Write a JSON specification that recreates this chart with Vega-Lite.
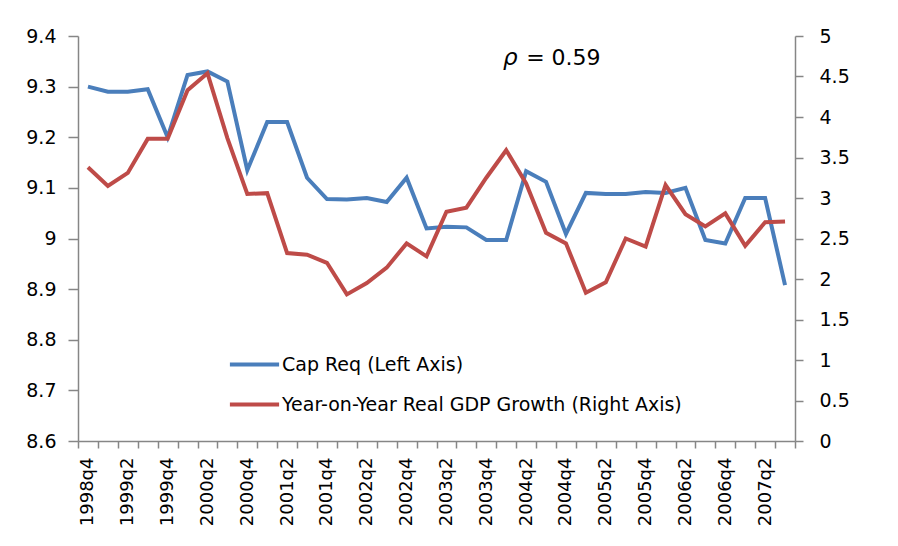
{
  "$schema": "https://vega.github.io/schema/vega-lite/v6.json",
  "width": 717,
  "height": 405,
  "autosize": "none",
  "padding": {"left": 78, "top": 36, "right": 103, "bottom": 105},
  "background": "white",
  "config": {
    "view": {"stroke": null},
    "font": "DejaVu Sans",
    "axis": {"grid": false, "domainColor": "#868686", "tickColor": "#868686", "labelColor": "#000000", "domainWidth": 1.5, "tickWidth": 1.5, "title": null}
  },
  "data": {
    "values": [
      {"q": "1998q4", "cap": 9.300, "gdp": 3.38},
      {"q": "1999q1", "cap": 9.290, "gdp": 3.15},
      {"q": "1999q2", "cap": 9.290, "gdp": 3.31},
      {"q": "1999q3", "cap": 9.295, "gdp": 3.73},
      {"q": "1999q4", "cap": 9.200, "gdp": 3.73},
      {"q": "2000q1", "cap": 9.323, "gdp": 4.33},
      {"q": "2000q2", "cap": 9.330, "gdp": 4.54},
      {"q": "2000q3", "cap": 9.310, "gdp": 3.74},
      {"q": "2000q4", "cap": 9.135, "gdp": 3.05},
      {"q": "2001q1", "cap": 9.230, "gdp": 3.06},
      {"q": "2001q2", "cap": 9.230, "gdp": 2.32},
      {"q": "2001q3", "cap": 9.120, "gdp": 2.30},
      {"q": "2001q4", "cap": 9.078, "gdp": 2.20},
      {"q": "2002q1", "cap": 9.077, "gdp": 1.81},
      {"q": "2002q2", "cap": 9.080, "gdp": 1.95},
      {"q": "2002q3", "cap": 9.072, "gdp": 2.14},
      {"q": "2002q4", "cap": 9.120, "gdp": 2.44},
      {"q": "2003q1", "cap": 9.020, "gdp": 2.28},
      {"q": "2003q2", "cap": 9.023, "gdp": 2.83},
      {"q": "2003q3", "cap": 9.022, "gdp": 2.88},
      {"q": "2003q4", "cap": 8.997, "gdp": 3.25},
      {"q": "2004q1", "cap": 8.997, "gdp": 3.59},
      {"q": "2004q2", "cap": 9.133, "gdp": 3.18},
      {"q": "2004q3", "cap": 9.112, "gdp": 2.57},
      {"q": "2004q4", "cap": 9.009, "gdp": 2.44},
      {"q": "2005q1", "cap": 9.090, "gdp": 1.83},
      {"q": "2005q2", "cap": 9.088, "gdp": 1.96},
      {"q": "2005q3", "cap": 9.088, "gdp": 2.50},
      {"q": "2005q4", "cap": 9.092, "gdp": 2.40},
      {"q": "2006q1", "cap": 9.090, "gdp": 3.16},
      {"q": "2006q2", "cap": 9.100, "gdp": 2.80},
      {"q": "2006q3", "cap": 8.997, "gdp": 2.65},
      {"q": "2006q4", "cap": 8.990, "gdp": 2.81},
      {"q": "2007q1", "cap": 9.080, "gdp": 2.41},
      {"q": "2007q2", "cap": 9.080, "gdp": 2.70},
      {"q": "2007q3", "cap": 8.908, "gdp": 2.71}
    ]
  },
  "encoding": {
    "x": {
      "field": "q",
      "type": "ordinal",
      "sort": null,
      "bandPosition": 0.5,
      "scale": {"type": "band", "paddingInner": 0, "paddingOuter": 0},
      "axis": {
        "tickBand": "extent",
        "tickSize": 7,
        "labelAngle": 270,
        "labelFontSize": 18,
        "labelPadding": 9,
        "labelExpr": "test(/q[24]$/, datum.value) ? datum.label : ''"
      }
    }
  },
  "layer": [
    {
      "layer": [
        {
          "mark": {"type": "line", "strokeWidth": 4},
          "encoding": {
            "y": {
              "field": "cap",
              "type": "quantitative",
              "scale": {"domain": [8.6, 9.4], "nice": false, "zero": false},
              "axis": {"orient": "left", "values": [8.6, 8.7, 8.8, 8.9, 9.0, 9.1, 9.2, 9.3, 9.4], "format": "~g", "labelFontSize": 19, "tickSize": 10, "labelPadding": 12}
            },
            "color": {
              "datum": "Cap Req (Left Axis)",
              "scale": {"domain": ["Cap Req (Left Axis)", "Year-on-Year Real GDP Growth (Right Axis)"], "range": ["#4A7EBB", "#BE4B48"]},
              "legend": {
                "title": null,
                "orient": "none",
                "legendX": 154,
                "legendY": 306,
                "padding": 0,
                "symbolType": "M-1.2,0H1.2",
                "symbolSize": 1681,
                "symbolStrokeWidth": 4,
                "labelFontSize": 19,
                "labelOffset": 5,
                "labelLimit": 0,
                "rowPadding": 7,
                "labelColor": "#000000"
              }
            }
          }
        },
        {
          "data": {"values": [{"q": "2004q1", "v": 9.357, "t": "ρ"}]},
          "mark": {"type": "text", "fontSize": 23, "fontStyle": "italic", "fontWeight": "normal", "align": "center", "baseline": "middle", "color": "#000000", "dx": 4},
          "encoding": {
            "x": {"field": "q", "type": "ordinal", "bandPosition": 0.5},
            "y": {"field": "v", "type": "quantitative"},
            "text": {"field": "t"}
          }
        },
        {
          "data": {"values": [{"q": "2004q2", "v": 9.357, "t": "= 0.59"}]},
          "mark": {"type": "text", "fontSize": 22, "fontWeight": "normal", "align": "left", "baseline": "middle", "color": "#000000", "dx": 0},
          "encoding": {
            "x": {"field": "q", "type": "ordinal", "bandPosition": 0.5},
            "y": {"field": "v", "type": "quantitative"},
            "text": {"field": "t"}
          }
        }
      ]
    },
    {
      "mark": {"type": "line", "strokeWidth": 4},
      "encoding": {
        "y": {
          "field": "gdp",
          "type": "quantitative",
          "scale": {"domain": [0, 5], "nice": false},
          "axis": {"orient": "right", "values": [0, 0.5, 1, 1.5, 2, 2.5, 3, 3.5, 4, 4.5, 5], "format": "~g", "labelFontSize": 19, "tickSize": 8, "labelPadding": 16}
        },
        "color": {"datum": "Year-on-Year Real GDP Growth (Right Axis)"}
      }
    }
  ],
  "resolve": {"scale": {"y": "independent"}}
}
